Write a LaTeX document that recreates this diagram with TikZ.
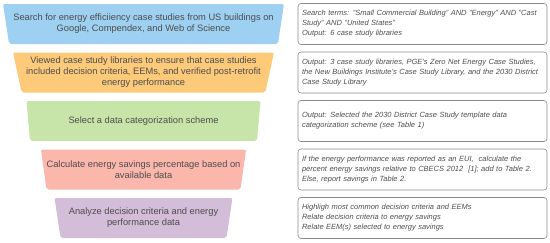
\documentclass[tikz,border=0pt]{standalone}
\usepackage{fontspec}
\setmainfont{Liberation Sans}
\usetikzlibrary{shapes.geometric}
\definecolor{stageblue}{HTML}{9DD0F1}
\definecolor{stageorange}{HTML}{FDCA7A}
\definecolor{stagegreen}{HTML}{C7E5A9}
\definecolor{stagered}{HTML}{FBB7AC}
\definecolor{stagepurple}{HTML}{D3BDD8}
\definecolor{textgray}{HTML}{4D4D4D}
\definecolor{linegray}{HTML}{8A8A8A}
\tikzset{
  stage/.style={trapezium, trapezium angle=77, trapezium stretches body, shape border rotate=180, rounded corners=2pt, minimum height=40pt, inner xsep=0pt, align=center, text=textgray, font=\fontsize{9.3}{11}\selectfont},
  note/.style={draw=linegray, line width=0.6pt, rectangle, rounded corners=3pt, minimum width=249pt, minimum height=41pt, text width=241pt, inner xsep=4pt, align=left, text=textgray, font=\fontsize{7.5}{10}\selectfont\itshape},
}
\begin{document}
\begin{tikzpicture}[x=1pt, y=-1pt, node distance=48.5pt]
\useasboundingbox (0,0) rectangle (550,242);
\node[stage, fill=stageblue, minimum width=281pt] (search) at (143.5,24) {Search for energy efficiiency case studies from US buildings on\\Google, Compendex, and Web of Science};
\node[stage, fill=stageorange, minimum width=261pt, below of=search] (view) {Viewed case study libraries to ensure that case studies\\included decision criteria, EEMs, and verified post-retrofit\\energy performance};
\node[stage, fill=stagegreen, minimum width=234pt, below of=view] (scheme) {Select a data categorization scheme};
\node[stage, fill=stagered, minimum width=205pt, below of=scheme] (savings) {Calculate energy savings percentage based on\\available data};
\node[stage, fill=stagepurple, minimum width=178pt, below of=savings] (analyze) {Analyze decision criteria and energy\\performance data};

\node[note, right of=search, node distance=279pt] (searchnote) {Search terms: "Small Commercial Building" AND "Energy" AND "Cast\\Study" AND "United States"\\Output: 6 case study libraries};
\node[note, right of=view, node distance=279pt] (viewnote) {Output: 3 case study libraries, PGE's Zero Net Energy Case Studies,\\the New Buildings Institute's Case Study Library, and the 2030 District\\Case Study Library};
\node[note, right of=scheme, node distance=279pt] (schemenote) {Output: Selected the 2030 District Case Study template data\\categorization scheme (see Table 1)};
\node[note, right of=savings, node distance=279pt] (savingsnote) {If the energy performance was reported as an EUI,~ calculate the\\percent energy savings relative to CBECS 2012~ [1]; add to Table 2.\\Else, report savings in Table 2.};
\node[note, right of=analyze, node distance=279pt] (analyzenote) {Highligh most common decision criteria and EEMs\\Relate decision criteria to energy savings\\Relate EEM(s) selected to energy savings};
\end{tikzpicture}
\end{document}
